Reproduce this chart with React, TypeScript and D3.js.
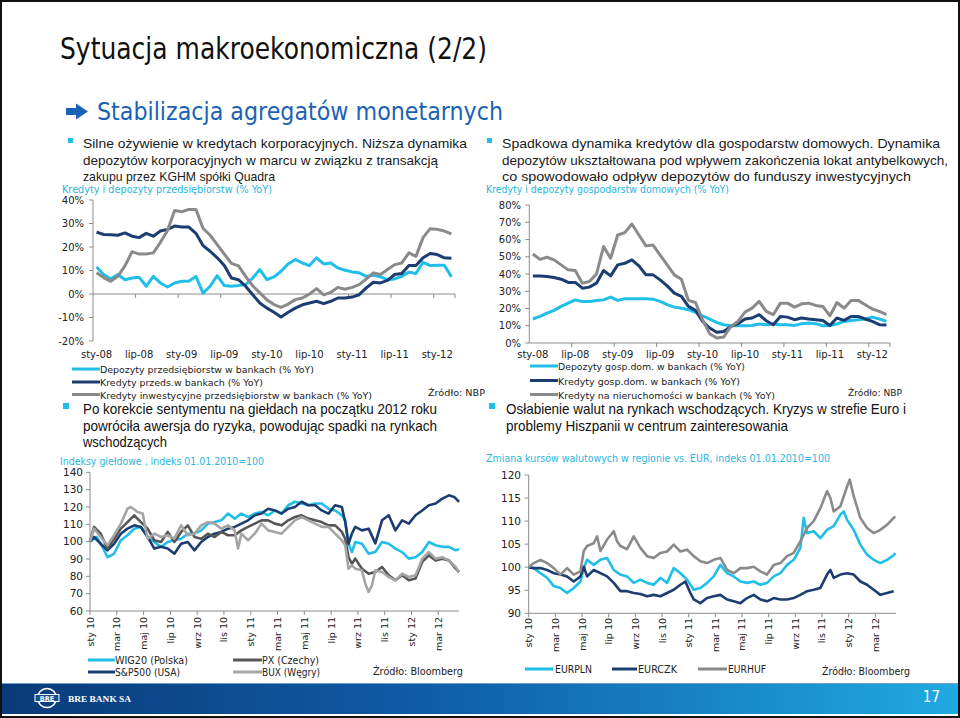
import React from "react";
import * as d3 from "d3";

// ---------- Top charts (monthly, sty-08 .. mar-12) ----------
const monthTickLabels = ["sty-08", "lip-08", "sty-09", "lip-09", "sty-10", "lip-10", "sty-11", "lip-11", "sty-12"];
const monthCount = 51;

const depozytyPrzeds = [11.5, 8.3, 6.5, 8.3, 6.1, 6.8, 7.1, 3.3, 7.5, 4.7, 3, 4.7, 5.4, 5.4, 7.5, 0.4, 3.3, 7.8, 3.6, 3.3, 3.6, 4, 6.8, 10.4, 6.1, 7.3, 9.7, 12.8, 14.7, 13.2, 12.1, 15.4, 12.8, 13.2, 11.1, 10.1, 9.4, 9, 7.5, 8, 7.3, 6.1, 6.4, 7.5, 9.3, 8.7, 13.5, 12.1, 12.2, 12.2, 7.3];
const kredytyPrzeds = [26.3, 25.3, 25.2, 25, 26, 24.6, 24, 25.8, 24.6, 26.8, 27.5, 28.9, 28.5, 28.5, 25.8, 20.6, 18.2, 15.4, 12.1, 6.8, 6.1, 3.3, -0.3, -3.8, -6, -7.8, -9.8, -7.8, -6, -4.6, -3.8, -3.1, -4.1, -3.1, -1.7, -1.7, -1.3, -0.3, 2.6, 5, 4.7, 5.8, 8.3, 8.7, 12.1, 12.1, 15.4, 17.2, 16.8, 15.4, 15.2];
const kredytyInwest = [9, 7, 5.4, 7.5, 12, 18, 17, 17, 17.5, 22, 27, 35.5, 35, 36, 36, 28, 25, 21, 17, 13, 12, 7.5, 3.5, 0.5, -2.5, -4.5, -5.7, -4.3, -2.4, -1.7, 0, 2.3, -0.4, 0.7, 2.8, 2, 2.8, 4, 6.4, 9, 8.3, 10.4, 12.5, 13.2, 17.5, 16, 24, 27.8, 27.5, 26.8, 25.6];

const depozytyGosp = [13.9, 15.4, 17.3, 18.9, 21.2, 23.1, 25, 24.1, 24.1, 24.7, 25, 26.6, 24.7, 25.6, 25.6, 25.6, 25.6, 25.4, 24.1, 22.2, 20.8, 20.2, 19.3, 17.7, 15.8, 13.9, 11.9, 10.6, 10, 10, 10, 10.2, 11, 10.6, 11, 10.6, 10.6, 10.2, 11.2, 11.6, 11.2, 10, 10.2, 11, 12.5, 13.1, 13.5, 13.9, 15, 13.9, 12.5];
const kredytyGosp = [38.9, 38.9, 38.5, 38, 37, 35.1, 35.1, 31.8, 32.4, 34.7, 42, 38.9, 45.3, 46.2, 48.2, 44.7, 39.5, 39.5, 36.6, 33.1, 28.9, 27, 21.2, 18.9, 12.5, 8.7, 6.2, 6.7, 9.6, 11.2, 13.9, 14.5, 16.4, 12.9, 10.6, 15.4, 15, 13.5, 14.5, 13.9, 13.5, 13.1, 10.2, 14.5, 13.1, 15.4, 15.4, 13.9, 12.5, 10.6, 10.4];
const kredytyNieruch = [51.6, 48.5, 49.7, 48.2, 45.3, 42.4, 42, 34.7, 35.6, 40, 55.9, 49.1, 62.6, 64, 69, 62.6, 56.3, 56.8, 51, 45.3, 39.5, 37, 24.7, 23.5, 13.5, 5.4, 2.9, 3.5, 9.6, 12.5, 17.9, 20.2, 24.1, 18.3, 16.4, 23.1, 23.1, 20.8, 22.7, 23.1, 21.8, 21.2, 15.8, 23.5, 20.2, 24.7, 24.7, 22.2, 19.7, 18.3, 16.4];

const yTicksTL = [-20, -10, 0, 10, 20, 30, 40];
const yTicksTR = [0, 10, 20, 30, 40, 50, 60, 70, 80];

// ---------- Bottom charts (months since 01.01.2010, value) ----------
const dayTickLabels = ["sty 10", "mar 10", "maj 10", "lip 10", "wrz 10", "lis 10", "sty 11", "mar 11", "maj 11", "lip 11", "wrz 11", "lis 11", "sty 12", "mar 12"];

const wig20: [number, number][] = [[0, 100], [0.5, 102.7], [1, 96], [1.3, 91], [1.8, 93], [2.3, 100.8], [2.8, 103.7], [3.3, 107.5], [3.8, 108.5], [4.3, 102.7], [4.8, 99.8], [5.3, 97], [5.8, 99.8], [6.3, 100.8], [6.8, 101.7], [7.3, 104.6], [7.8, 104.6], [8.3, 106.5], [8.8, 110.4], [9.3, 111.3], [9.8, 112.3], [10.3, 116.2], [10.8, 113.3], [11.3, 116.2], [11.8, 114.2], [12.3, 116.2], [12.8, 117.1], [13.3, 115.2], [13.8, 118], [14.3, 116.2], [14.8, 121], [15.3, 123], [15.8, 122], [16.3, 121], [16.8, 122], [17.3, 122], [17.8, 119], [18.3, 118], [18.8, 115.2], [19.05, 112.3], [19.3, 98.8], [19.55, 94], [19.8, 99.8], [20.3, 98.8], [20.8, 93], [21.3, 94], [21.8, 99.8], [22.3, 98.8], [22.8, 96], [23.3, 94], [23.8, 90.2], [24.3, 91], [24.8, 94], [25.3, 99.8], [25.8, 97.9], [26.3, 97], [26.8, 97], [27.3, 95], [27.55, 95.6]];
const sp500: [number, number][] = [[0, 100], [0.3, 102.7], [0.8, 98.8], [1.3, 95], [1.8, 98.8], [2.3, 104.6], [2.8, 107.5], [3.3, 109.4], [3.8, 108.5], [4.3, 102.7], [4.8, 96], [5.3, 97], [5.8, 96], [6.3, 93], [6.8, 98.8], [7.3, 99.8], [7.8, 95], [8.3, 99.8], [8.8, 102.7], [9.3, 104.6], [9.8, 105.6], [10.3, 107.5], [10.8, 108.5], [11.3, 110.4], [11.8, 112.3], [12.3, 115.2], [12.8, 116.2], [13.3, 119], [13.8, 118], [14.3, 116.2], [14.8, 119], [15.3, 120], [15.8, 123], [16.3, 121], [16.8, 121], [17.3, 118], [17.8, 116.2], [18.3, 121], [18.8, 120], [19.05, 111.3], [19.3, 98.8], [19.55, 104.6], [19.8, 108.5], [20.3, 106.5], [20.8, 107.5], [21.3, 99], [21.8, 112.3], [22.3, 115.2], [22.8, 106.5], [23.3, 112.3], [23.8, 110.4], [24.3, 115.2], [24.8, 118], [25.3, 121], [25.8, 122], [26.3, 124.8], [26.8, 126.7], [27.18, 125.8], [27.55, 122.9]];
const pxCzechy: [number, number][] = [[0, 100], [0.3, 108.5], [0.8, 104.6], [1.3, 96], [1.8, 101.7], [2.3, 107.5], [2.8, 111.3], [3.3, 115.2], [3.8, 111.3], [4.3, 107.5], [4.8, 100.8], [5.3, 99.8], [5.8, 105.6], [6.3, 99.8], [6.8, 105.6], [7.3, 109.4], [7.8, 102.7], [8.3, 101.7], [8.8, 104.6], [9.3, 102.7], [9.8, 105.6], [10.3, 103.7], [10.8, 103.7], [11.3, 106.5], [11.8, 108.5], [12.3, 110.4], [12.8, 112.3], [13.3, 112.3], [13.8, 110.4], [14.3, 109.4], [14.8, 112.3], [15.3, 114.2], [15.8, 115.2], [16.3, 113.3], [16.8, 112.3], [17.3, 111.3], [17.8, 109.4], [18.3, 109.4], [18.8, 105.6], [19.05, 101.7], [19.3, 91], [19.55, 87.3], [19.8, 90.2], [20.3, 84.4], [20.8, 81.5], [21.3, 82.5], [21.8, 85.4], [22.3, 80.6], [22.8, 77.7], [23.3, 80.6], [23.8, 77.7], [24.3, 78.7], [24.8, 88.3], [25.3, 92.1], [25.8, 89.2], [26.3, 90.2], [26.8, 89.2], [27.3, 84.4], [27.55, 82.5]];
const buxWegry: [number, number][] = [[0, 100], [0.3, 107.5], [0.8, 102.7], [1.3, 97.9], [1.8, 103.7], [2.3, 110.4], [2.8, 119], [3.05, 120], [3.55, 117.1], [3.93, 116.2], [4.3, 101.7], [4.8, 104.6], [5.3, 102.7], [5.8, 103.7], [6.3, 101.7], [6.8, 109.4], [7.3, 103.7], [7.8, 104.6], [8.3, 109.4], [8.8, 111.3], [9.3, 110.4], [9.8, 107.5], [10.3, 109.4], [10.8, 106.5], [11.05, 96], [11.3, 104.6], [11.8, 100.8], [12.3, 104.6], [12.8, 110.4], [13.3, 106.5], [13.8, 105.6], [14.3, 104.6], [14.8, 108.5], [15.3, 112.3], [15.8, 114.2], [16.3, 112.3], [16.8, 110.4], [17.3, 108.5], [17.8, 108.5], [18.3, 104.6], [18.8, 100.8], [19.05, 97.9], [19.3, 84.4], [19.55, 86.3], [19.8, 84.4], [20.3, 83.5], [20.55, 75.8], [20.8, 71], [21.05, 74.8], [21.3, 83.5], [21.8, 82.5], [22.3, 79.6], [22.8, 77.7], [23.3, 81.5], [23.8, 79.6], [24.3, 80.6], [24.8, 90.2], [25.3, 94], [25.8, 90.2], [26.3, 91], [26.8, 89.2], [27.3, 85.4], [27.55, 82.5]];

const eurpln: [number, number][] = [[0, 100], [0.38, 99.8], [0.88, 98.7], [1.38, 97.7], [1.88, 95.9], [2.38, 95.5], [2.88, 94.4], [3.38, 95.5], [3.88, 96.9], [4.13, 99.8], [4.38, 101.6], [4.88, 100.5], [5.38, 101.6], [5.88, 102], [6.38, 99.4], [6.88, 98.4], [7.38, 98], [7.88, 96.6], [8.38, 97.3], [8.88, 96.6], [9.38, 96.2], [9.88, 97.7], [10.38, 96.6], [10.88, 99.8], [11.38, 98.7], [11.88, 97.3], [12.38, 95.1], [12.88, 95.5], [13.38, 96.6], [13.88, 98], [14.38, 100.5], [14.88, 98.7], [15.38, 98], [15.88, 96.9], [16.38, 96.6], [16.88, 96.9], [17.38, 96.2], [17.88, 96.6], [18.38, 98], [18.88, 98.7], [19.38, 100.5], [19.88, 101.6], [20.38, 104.2], [20.63, 110.7], [20.88, 107.4], [21.38, 107.8], [21.88, 106.3], [22.38, 108.1], [22.88, 108.9], [23.38, 111.4], [23.63, 112.1], [23.88, 110.3], [24.38, 108.1], [24.88, 104.9], [25.38, 102.7], [25.88, 101.6], [26.38, 100.9], [26.88, 101.6], [27.38, 102.6], [27.5, 103.1]];
const eurczk: [number, number][] = [[0, 100], [0.38, 99.8], [0.88, 99.8], [1.38, 99.4], [1.88, 98.7], [2.38, 98.4], [2.88, 98], [3.38, 96.9], [3.88, 98], [4.13, 100.1], [4.38, 98], [4.88, 99.4], [5.38, 98.7], [5.88, 98], [6.38, 96.6], [6.88, 94.8], [7.38, 94.8], [7.88, 94.4], [8.38, 94.2], [8.88, 93.7], [9.38, 94], [9.88, 93.7], [10.38, 94.4], [10.88, 95.1], [11.38, 96.2], [11.75, 96.9], [12.13, 94.4], [12.38, 93], [12.88, 92.2], [13.38, 93.3], [13.88, 93.7], [14.38, 94], [14.88, 93], [15.38, 92.6], [15.88, 92.2], [16.38, 93.3], [16.88, 94], [17.38, 93], [17.88, 92.6], [18.38, 93.3], [18.88, 93], [19.38, 93], [19.88, 93.3], [20.38, 94], [20.88, 94.8], [21.38, 95.1], [21.88, 95.5], [22.38, 98.4], [22.63, 99.4], [22.88, 97.7], [23.38, 98.4], [23.88, 98.7], [24.38, 98.4], [24.88, 96.9], [25.38, 96.2], [25.88, 95.1], [26.38, 94], [26.88, 94.4], [27.38, 94.8]];
const eurhuf: [number, number][] = [[0, 100], [0.38, 100.9], [0.88, 101.6], [1.38, 100.9], [1.88, 99.8], [2.38, 98.4], [2.88, 99.8], [3.38, 98.4], [3.88, 99.1], [4.13, 103.5], [4.38, 104.6], [4.88, 105.2], [5.13, 106.7], [5.38, 103.5], [5.88, 106], [6.38, 107.8], [6.63, 105.6], [6.88, 104.6], [7.38, 103.9], [7.88, 106.7], [8.38, 104.2], [8.88, 102.4], [9.38, 102], [9.88, 103.1], [10.38, 103.4], [10.88, 104.9], [11.38, 103.4], [11.88, 103.8], [12.38, 102.4], [12.88, 101.3], [13.38, 100.9], [13.88, 101.6], [14.38, 102], [14.88, 99.4], [15.38, 98.7], [15.88, 99.8], [16.38, 99.8], [16.88, 100.1], [17.38, 99.1], [17.88, 98.4], [18.38, 100.5], [18.88, 100.9], [19.38, 102.4], [19.88, 103.1], [20.38, 105.6], [20.88, 108.5], [21.38, 110], [21.88, 112.8], [22.38, 116.5], [22.63, 115], [22.88, 112.1], [23.38, 113.2], [23.88, 117.5], [24.08, 119], [24.38, 115.4], [24.88, 110.7], [25.38, 108.5], [25.88, 107.4], [26.38, 108.1], [26.88, 109.2], [27.38, 110.7], [27.5, 111]];

const yTicksBL = [60, 70, 80, 90, 100, 110, 120, 130, 140];
const yTicksBR = [90, 95, 100, 105, 110, 115, 120];

// ---------- styling ----------
const CYAN = "#1fbfe9";
const NAVY = "#1c3d72";
const GRAY = "#8a8a8a";
const DGRAY = "#565656";
const LGRAY = "#a5a5a5";
const AXIS = "#8c8c8c";
const TITLE_CYAN = "#2ab6de";
const FONT = "'DejaVu Sans', Verdana, sans-serif";
const BODY = "'Liberation Sans', Arial, sans-serif";

type TProps = {
  x: number; y: number; w?: number; size: number; fill?: string; anchor?: string; weight?: string | number; children: React.ReactNode; family?: string;
};
function T({ x, y, w, size, fill = "#1a1a1a", anchor = "start", weight = "normal", children, family = FONT }: TProps) {
  const extra: any = w ? { textLength: w, lengthAdjust: "spacingAndGlyphs" } : {};
  return (
    <text x={x} y={y} fontSize={size} fill={fill} textAnchor={anchor as any} fontWeight={weight} fontFamily={family} {...extra}>
      {children}
    </text>
  );
}

function MonthlyChart({ x0, x1, yScale, yTicks, series, axisY, labelRight }: {
  x0: number; x1: number; yScale: d3.ScaleLinear<number, number>; yTicks: number[]; series: { data: number[]; color: string }[]; axisY: number; labelRight: number;
}) {
  const xs = d3.scaleBand<number>().domain(d3.range(monthCount)).range([x0, x1]);
  const cx = (i: number) => (xs(i) as number) + xs.bandwidth() / 2;
  const line = d3.line<number>().x((_, i) => cx(i)).y((d) => yScale(d));
  const [yMin, yMax] = yScale.range();
  return (
    <g>
      <line x1={x0} x2={x0} y1={yMax} y2={yMin} stroke={AXIS} strokeWidth={1} />
      {yTicks.map((t) => (
        <g key={t}>
          <line x1={x0 - 4} x2={x0} y1={yScale(t)} y2={yScale(t)} stroke={AXIS} />
          <T x={labelRight} y={yScale(t) + 3.6} size={10} anchor="end" fill="#222">{`${t}%`}</T>
        </g>
      ))}
      <line x1={x0} x2={x1} y1={axisY} y2={axisY} stroke={AXIS} strokeWidth={1} />
      {d3.range(6, monthCount, 6).map((i) => (
        <line key={i} x1={xs(i) as number} x2={xs(i) as number} y1={axisY} y2={axisY + 4} stroke={AXIS} />
      ))}
      <line x1={x1} x2={x1} y1={axisY} y2={axisY + 4} stroke={AXIS} />
      {monthTickLabels.map((lab, k) => (
        <T key={lab} x={cx(k * 6)} y={358} size={10} anchor="middle" fill="#222">{lab}</T>
      ))}
      {series.map((s, k) => (
        <path key={k} d={line(s.data) || ""} fill="none" stroke={s.color} strokeWidth={3} strokeLinejoin="round" />
      ))}
    </g>
  );
}

function IndexChart({ xScale, xEnd, yScale, yTicks, series, labelRight, labelTop }: {
  xScale: d3.ScaleLinear<number, number>; xEnd: number; yScale: d3.ScaleLinear<number, number>; yTicks: number[];
  series: { data: [number, number][]; color: string }[]; labelRight: number; labelTop: number;
}) {
  const line = d3.line<[number, number]>().x((d) => xScale(d[0])).y((d) => yScale(d[1]));
  const [yBot, yTop] = yScale.range();
  const x0 = xScale(0);
  return (
    <g>
      <line x1={x0} x2={x0} y1={yTop} y2={yBot} stroke={AXIS} />
      {yTicks.map((t) => (
        <g key={t}>
          <line x1={x0 - 4} x2={x0} y1={yScale(t)} y2={yScale(t)} stroke={AXIS} />
          <T x={labelRight} y={yScale(t) + 3.8} size={10.5} anchor="end" fill="#222">{t}</T>
        </g>
      ))}
      <line x1={x0} x2={xEnd} y1={yBot} y2={yBot} stroke={AXIS} />
      {dayTickLabels.map((lab, k) => {
        const x = xScale(k * 2);
        return (
          <g key={lab}>
            <line x1={x} x2={x} y1={yBot} y2={yBot + 4} stroke={AXIS} />
            <text transform={`translate(${x + 3.5},${labelTop}) rotate(-90)`} textAnchor="end" fontSize={9.5} fontFamily={FONT} fill="#222">{lab}</text>
          </g>
        );
      })}
      {series.map((s, k) => (
        <path key={k} d={line(s.data) || ""} fill="none" stroke={s.color} strokeWidth={2.6} strokeLinejoin="round" />
      ))}
    </g>
  );
}

function LegendLine({ x1, x2, y, color, w = 3 }: { x1: number; x2: number; y: number; color: string; w?: number }) {
  return <line x1={x1} x2={x2} y1={y} y2={y} stroke={color} strokeWidth={w} />;
}

export default function App() {
  const yTL = d3.scaleLinear().domain([-20, 40]).range([341, 200]);
  const yTR = d3.scaleLinear().domain([0, 80]).range([343, 205]);
  const xBL = d3.scaleLinear().domain([0, 26]).range([90, 438.3]);
  const yBL = d3.scaleLinear().domain([60, 140]).range([611, 472.3]);
  const xBR = d3.scaleLinear().domain([0, 26]).range([528.7, 875.3]);
  const yBR = d3.scaleLinear().domain([90, 120]).range([613.3, 475]);

  return (
    <div style={{ position: "absolute", left: 0, top: 0 }}>
      <svg width={960} height={718} style={{ display: "block" }}>
        <defs>
          <linearGradient id="foot" x1="0" x2="1" y1="0" y2="0">
            <stop offset="0" stopColor="#0a3a78" />
            <stop offset="0.45" stopColor="#0f5da6" />
            <stop offset="1" stopColor="#20aae2" />
          </linearGradient>
        </defs>
        <rect x={0} y={0} width={960} height={718} fill="#fff" />

        {/* Title */}
        <T x={60} y={59} w={427} size={30} fill="#111">Sytuacja makroekonomiczna (2/2)</T>
        {/* Arrow + subtitle */}
        <rect x={66} y={108} width={11} height={7} fill="#1a62b6" />
        <polygon points="76,103.5 88,111.5 76,119.5" fill="#1a62b6" />
        <T x={97} y={120} w={406} size={24} fill="#1a62b6">Stabilizacja agregatów monetarnych</T>

        {/* Top bullets */}
        <rect x={68} y={138} width={5} height={5} fill={CYAN} />
        <T x={83} y={148} w={384} size={13.5} family={BODY}>Silne ożywienie w kredytach korporacyjnych. Niższa dynamika</T>
        <T x={83} y={165} w={355} size={13.5} family={BODY}>depozytów korporacyjnych w marcu w związku z transakcją</T>
        <T x={83} y={181} w={192} size={13.5} family={BODY}>zakupu przez KGHM  spółki Quadra</T>

        <rect x={487} y={138} width={5} height={5} fill={CYAN} />
        <T x={502} y={148} w={438} size={13.5} family={BODY}>Spadkowa dynamika kredytów dla gospodarstw domowych. Dynamika</T>
        <T x={502} y={165} w={446} size={13} family={BODY}>depozytów ukształtowana pod wpływem zakończenia lokat antybelkowych,</T>
        <T x={502} y={181} w={409} size={13.5} family={BODY}>co spowodowało odpływ depozytów do funduszy inwestycyjnych</T>

        {/* Top-left chart */}
        <T x={62} y={193} w={210} size={10.5} fill={TITLE_CYAN}>Kredyty i depozyty  przedsiębiorstw (% YoY)</T>
        <MonthlyChart x0={93} x1={455} yScale={yTL} yTicks={yTicksTL} axisY={yTL(0)} labelRight={84}
          series={[{ data: depozytyPrzeds, color: CYAN }, { data: kredytyPrzeds, color: NAVY }, { data: kredytyInwest, color: GRAY }]} />
        <LegendLine x1={72} x2={100} y={369} color={CYAN} />
        <T x={100} y={373} w={214} size={9.5} fill="#222">Depozyty przedsiębiorstw w bankach (% YoY)</T>
        <LegendLine x1={72} x2={100} y={382} color={NAVY} />
        <T x={100} y={386} w={163} size={9.5} fill="#222">Kredyty przeds.w bankach (% YoY)</T>
        <LegendLine x1={72} x2={100} y={394.5} color={GRAY} />
        <T x={100} y={398.5} w={272} size={9.5} fill="#222">Kredyty inwestycyjne przedsiębiorstw w bankach (% YoY)</T>
        <T x={428} y={396} w={57} size={9.5} fill="#222">Źródło: NBP</T>

        {/* Top-right chart */}
        <T x={486} y={193} w={243} size={10.5} fill={TITLE_CYAN}>Kredyty i depozyty gospodarstw domowych (% YoY)</T>
        <MonthlyChart x0={529.3} x1={890} yScale={yTR} yTicks={yTicksTR} axisY={343} labelRight={521}
          series={[{ data: depozytyGosp, color: CYAN }, { data: kredytyGosp, color: NAVY }, { data: kredytyNieruch, color: GRAY }]} />
        <LegendLine x1={530} x2={558} y={366} color={CYAN} />
        <T x={558} y={370} w={187} size={9.5} fill="#222">Depozyty gosp.dom. w bankach (% YoY)</T>
        <LegendLine x1={530} x2={558} y={380.5} color={NAVY} />
        <T x={558} y={384.5} w={182} size={9.5} fill="#222">Kredyty gosp.dom. w bankach (% YoY)</T>
        <LegendLine x1={530} x2={558} y={394.5} color={GRAY} />
        <T x={558} y={398.5} w={217} size={9.5} fill="#222">Kredyty na nieruchomości w bankach (% YoY)</T>
        <T x={848} y={396} w={54} size={9.5} fill="#222">Źródło: NBP</T>

        {/* Middle bullets */}
        <rect x={63} y={403} width={6} height={6} fill={CYAN} />
        <T x={83} y={414} w={354} size={14.5} fill="#111" family={BODY}>Po korekcie sentymentu na giełdach na początku 2012 roku</T>
        <T x={83} y={430.5} w={354} size={14.5} fill="#111" family={BODY}>powróciła awersja do ryzyka, powodując spadki na rynkach</T>
        <T x={83} y={447} w={84} size={14.5} fill="#111" family={BODY}>wschodzących</T>
        <rect x={489} y={403} width={6} height={6} fill={CYAN} />
        <T x={506} y={414} w={400} size={14.5} fill="#111" family={BODY}>Osłabienie walut na rynkach wschodzących. Kryzys w strefie Euro i</T>
        <T x={506} y={430.5} w={282} size={14.5} fill="#111" family={BODY}>problemy Hiszpanii w centrum zainteresowania</T>

        {/* Bottom-left chart */}
        <T x={60} y={465} w={204} size={10.5} fill={TITLE_CYAN}>Indeksy giełdowe , indeks  01.01.2010=100</T>
        <IndexChart xScale={xBL} xEnd={459} yScale={yBL} yTicks={yTicksBL} labelRight={83} labelTop={617}
          series={[{ data: wig20, color: CYAN }, { data: sp500, color: NAVY }, { data: pxCzechy, color: DGRAY }, { data: buxWegry, color: LGRAY }]} />
        <LegendLine x1={88} x2={115} y={660} color={CYAN} />
        <T x={115} y={664} w={73} size={10.5} fill="#222">WIG20 (Polska)</T>
        <LegendLine x1={88} x2={115} y={672} color={NAVY} />
        <T x={115} y={676} w={65} size={10.5} fill="#222">S&amp;P500 (USA)</T>
        <LegendLine x1={233} x2={262} y={660} color={DGRAY} />
        <T x={262} y={664} w={57} size={10.5} fill="#222">PX (Czechy)</T>
        <LegendLine x1={233} x2={262} y={672} color={LGRAY} />
        <T x={262} y={676} w={58} size={10.5} fill="#222">BUX (Węgry)</T>
        <T x={373} y={675} w={90} size={10.5} fill="#222">Źródło: Bloomberg</T>

        {/* Bottom-right chart */}
        <T x={486} y={462} w={344} size={10.5} fill={TITLE_CYAN}>Zmiana kursów  walutowych w regionie vs. EUR, indeks  01.01.2010=100</T>
        <IndexChart xScale={xBR} xEnd={896} yScale={yBR} yTicks={yTicksBR} labelRight={521} labelTop={618}
          series={[{ data: eurpln, color: CYAN }, { data: eurczk, color: NAVY }, { data: eurhuf, color: GRAY }]} />
        <LegendLine x1={525} x2={553} y={669} color={CYAN} />
        <T x={555} y={673} w={37} size={10.5} fill="#222">EURPLN</T>
        <LegendLine x1={612} x2={637} y={669} color={NAVY} />
        <T x={638} y={673} w={39} size={10.5} fill="#222">EURCZK</T>
        <LegendLine x1={698} x2={727} y={669} color={GRAY} />
        <T x={728} y={673} w={38} size={10.5} fill="#222">EURHUF</T>
        <T x={822} y={675} w={88} size={10.5} fill="#222">Źródło: Bloomberg</T>

        {/* Footer */}
        <rect x={0} y={683} width={960} height={31} fill="url(#foot)" />
        <line x1={0} x2={960} y1={683.5} y2={683.5} stroke="#6f9fd2" strokeWidth={1} />
        <g transform="translate(47,698)">
          <circle r={9.5} fill="none" stroke="#fff" strokeWidth={1.6} />
          <rect x={-12} y={-3.5} width={24} height={7} fill="#14508f" stroke="#fff" strokeWidth={1} />
          <text x={0} y={2.6} fontSize={6.5} fontWeight="bold" fill="#fff" textAnchor="middle" fontFamily={FONT}>BRE</text>
        </g>
        <T x={68} y={702} w={63} size={9} fill="#fff" weight="bold" family="'Liberation Serif', 'DejaVu Serif', serif">BRE BANK SA</T>
        <T x={940} y={702} size={15} fill="#fff" anchor="end" family="'DejaVu Sans Condensed', 'DejaVu Sans', sans-serif">17</T>

        {/* Frame */}
        <rect x={1} y={1} width={958} height={716} fill="none" stroke="#111" strokeWidth={2} />
      </svg>
    </div>
  );
}
